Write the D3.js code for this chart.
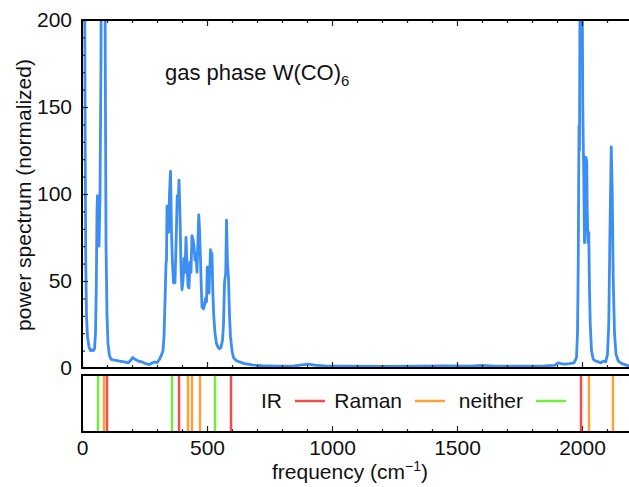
<!DOCTYPE html>
<html>
<head>
<meta charset="utf-8">
<script src="https://cdn.jsdelivr.net/npm/d3@7"></script>
<style>
  body { margin: 0; background: #fff; }
  text { font-family: "Liberation Sans", Arial, sans-serif; fill: #111; }
</style>
</head>
<body>
<div id="chart"></div>
<script>
// spectrum
var freq = [2, 6, 10, 13, 15, 18, 22, 28, 34, 40, 46, 50, 54, 57, 60, 62, 64, 66, 68, 70, 72, 76, 78, 90, 93, 96, 100, 104, 110, 116,
  130, 150, 170, 185, 195, 203, 212, 225, 240, 255, 270, 282, 292, 300, 310, 318, 324, 328, 332, 336, 338, 340, 343, 346, 350, 354,
  358, 362, 366, 372, 376, 381, 385, 388, 392, 396, 400, 404, 408, 412, 416, 420, 424, 428, 432, 436, 440, 444, 448, 452, 456, 460,
  463, 467, 470, 474, 477, 480, 486, 490, 494, 498, 501, 504, 508, 511, 514, 517, 520, 523, 527, 532, 538, 544, 550, 556, 562, 566,
  570, 575, 578, 582, 586, 590, 594, 600, 606, 615, 630, 650, 680, 720, 780, 850, 880, 905, 930, 970, 1050, 1200, 1350, 1450, 1550,
  1600, 1650, 1750, 1850, 1890, 1905, 1915, 1930, 1950, 1968, 1978, 1982, 1985, 1988, 1990, 1992, 1996, 2000, 2003, 2005, 2007,
  2010, 2012, 2016, 2019, 2021, 2024, 2027, 2030, 2033, 2038, 2045, 2055, 2065, 2075, 2085, 2095, 2102, 2107, 2112, 2117, 2121,
  2125, 2130, 2136, 2145, 2160, 2180, 2200];
var power = [320, 300, 250, 120, 60, 30, 18, 12, 10, 10.5, 10, 11, 20, 45, 90, 99, 98, 80, 70, 85, 98, 180, 300, 300, 180, 72, 30, 14, 7, 5,
  4.5, 4, 3.5, 3, 4.5, 6, 5, 4, 3.5, 2.5, 2, 3, 3.5, 3, 5, 7.5, 10, 18, 38, 60, 62, 93, 80, 78, 100, 113,
  78, 60, 49, 49, 70, 99, 95, 108, 88, 58, 45, 50, 63, 55, 75, 60, 47, 46, 61, 55, 76, 74, 70, 62, 66, 55,
  70, 88, 80, 62, 47, 35, 34, 36, 40, 38, 58, 45, 43, 56, 68, 60, 66, 45, 30, 20, 14, 12, 11, 12, 16, 25,
  49, 55, 85, 60, 52, 30, 18, 10, 6, 4.5, 3.5, 2.5, 1.8, 1.3, 1, 1.2, 1.8, 2.2, 1.6, 1.2, 1, 0.9, 1, 1.2, 1.1,
  1.5, 1.1, 1, 1.2, 1.5, 3, 2.5, 2.2, 2.5, 3, 6, 20, 60, 139, 125, 220, 320, 250, 152, 130, 110,
  72, 80, 121, 119, 90, 72, 78, 45, 25, 10, 5, 4, 3.5, 3, 4, 3.5, 8, 25, 80, 127, 100,
  50, 20, 8, 4, 2.5, 1.5, 1];

// normal modes
var irModes = [100, 388, 596, 1996];
var ramanModes = [88, 424, 440, 472, 2028, 2124];
var neitherModes = [64, 360, 532];

var xTicks = [0, 500, 1000, 1500, 2000];
var yTicks = [0, 50, 100, 150, 200];

var W = 629, H = 487;
var left = 82, right = 632;
var top1 = 20, bot1 = 368;
var top2 = 375, bot2 = 432;

var lineColor = "#3d8ef2";
var irColor = "#f44b4b", ramanColor = "#fca135", neitherColor = "#72ee3a";

var svg = d3.select("#chart").append("svg")
    .attr("width", W)
    .attr("height", H);

var x = d3.scaleLinear().domain([0, 2200]).range([left, right]);
var y = d3.scaleLinear().domain([0, 200]).range([bot1, top1]);

svg.append("clipPath").attr("id", "clip1")
  .append("rect")
    .attr("x", left).attr("y", top1)
    .attr("width", right - left).attr("height", bot1 - top1);

var data = freq.map(function (f, i) { return {f: f, p: power[i]}; });

var line = d3.line()
    .x(function (d) { return x(d.f); })
    .y(function (d) { return y(d.p); });

svg.append("path")
    .datum(data)
    .attr("clip-path", "url(#clip1)")
    .attr("fill", "none")
    .attr("stroke", lineColor)
    .attr("stroke-width", 2.8)
    .attr("stroke-linejoin", "round")
    .attr("d", line);

// ticks, pointing inwards
var minorX = d3.range(0, 2201, 100).filter(function (v) { return v % 500 != 0; });
var minorY = d3.range(0, 201, 10).filter(function (v) { return v % 50 != 0; });

function tickGroup(axis, tx, ty) {
  var g = svg.append("g").attr("transform", "translate(" + tx + "," + ty + ")").call(axis);
  g.select(".domain").remove();
  g.selectAll("text").remove();
  g.selectAll("line").attr("stroke", "#222").attr("stroke-width", 1.2);
  return g;
}

tickGroup(d3.axisBottom(x).tickValues(xTicks).tickSize(-6), 0, bot1);
tickGroup(d3.axisBottom(x).tickValues(minorX).tickSize(-3), 0, bot1);
tickGroup(d3.axisTop(x).tickValues(xTicks).tickSize(-6), 0, top1);
tickGroup(d3.axisTop(x).tickValues(minorX).tickSize(-3), 0, top1);
tickGroup(d3.axisLeft(y).tickValues(yTicks).tickSize(-6), left, 0);
tickGroup(d3.axisLeft(y).tickValues(minorY).tickSize(-3), left, 0);

tickGroup(d3.axisBottom(x).tickValues(xTicks).tickSize(-6), 0, bot2);
tickGroup(d3.axisBottom(x).tickValues(minorX).tickSize(-3), 0, bot2);

// mode lines in lower panel
function modes(vals, color) {
  svg.selectAll(null)
    .data(vals)
    .enter()
    .append("line")
    .attr("x1", function (d) { return x(d); })
    .attr("x2", function (d) { return x(d); })
    .attr("y1", top2)
    .attr("y2", bot2)
    .attr("stroke", color)
    .attr("stroke-width", 2.5);
}
modes(neitherModes, neitherColor);
modes(ramanModes, ramanColor);
modes(irModes, irColor);

// frames
[[top1, bot1], [top2, bot2]].forEach(function (r) {
  svg.append("rect")
    .attr("x", left).attr("y", r[0])
    .attr("width", right - left).attr("height", r[1] - r[0])
    .attr("fill", "none")
    .attr("stroke", "#000")
    .attr("stroke-width", 2);
});

// tick labels
svg.append("g")
    .attr("transform", "translate(0," + bot2 + ")")
    .call(d3.axisBottom(x).tickValues(xTicks).tickSize(0).tickPadding(8).tickFormat(d3.format("d")))
    .call(function (g) { g.select(".domain").remove(); })
    .selectAll("text")
    .style("font-size", "21px")
    .style("font-family", "Liberation Sans, Arial, sans-serif")
    .attr("fill", "#111");

svg.append("g")
    .attr("transform", "translate(" + left + ",0)")
    .call(d3.axisLeft(y).tickValues(yTicks).tickSize(0).tickPadding(10))
    .call(function (g) { g.select(".domain").remove(); })
    .selectAll("text")
    .style("font-size", "21px")
    .style("font-family", "Liberation Sans, Arial, sans-serif")
    .attr("fill", "#111");

// axis titles
var xl = svg.append("text")
    .attr("x", 350).attr("y", 479)
    .attr("text-anchor", "middle")
    .style("font-size", "21px");
xl.append("tspan").text("frequency (cm");
xl.append("tspan").attr("dy", -8).style("font-size", "14px").text("\u22121");
xl.append("tspan").attr("dy", 8).text(")");

svg.append("text")
    .attr("transform", "translate(31,195) rotate(-90)")
    .attr("text-anchor", "middle")
    .style("font-size", "21px")
    .text("power spectrum (normalized)");

var title = svg.append("text")
    .attr("x", 165).attr("y", 80)
    .style("font-size", "22px");
title.append("tspan").text("gas phase W(CO)");
title.append("tspan").attr("dy", 6).style("font-size", "15px").text("6");

// legend: label, then a sample line
var legend = [{label: "IR", color: irColor, x: 295},
              {label: "Raman", color: ramanColor, x: 415},
              {label: "neither", color: neitherColor, x: 536}];
legend.forEach(function (d) {
  svg.append("text")
    .attr("x", d.x - 13).attr("y", 408)
    .attr("text-anchor", "end")
    .style("font-size", "21px")
    .text(d.label);
  svg.append("line")
    .attr("x1", d.x).attr("x2", d.x + 30)
    .attr("y1", 401).attr("y2", 401)
    .attr("stroke", d.color)
    .attr("stroke-width", 2.5);
});
</script>
</body>
</html>
